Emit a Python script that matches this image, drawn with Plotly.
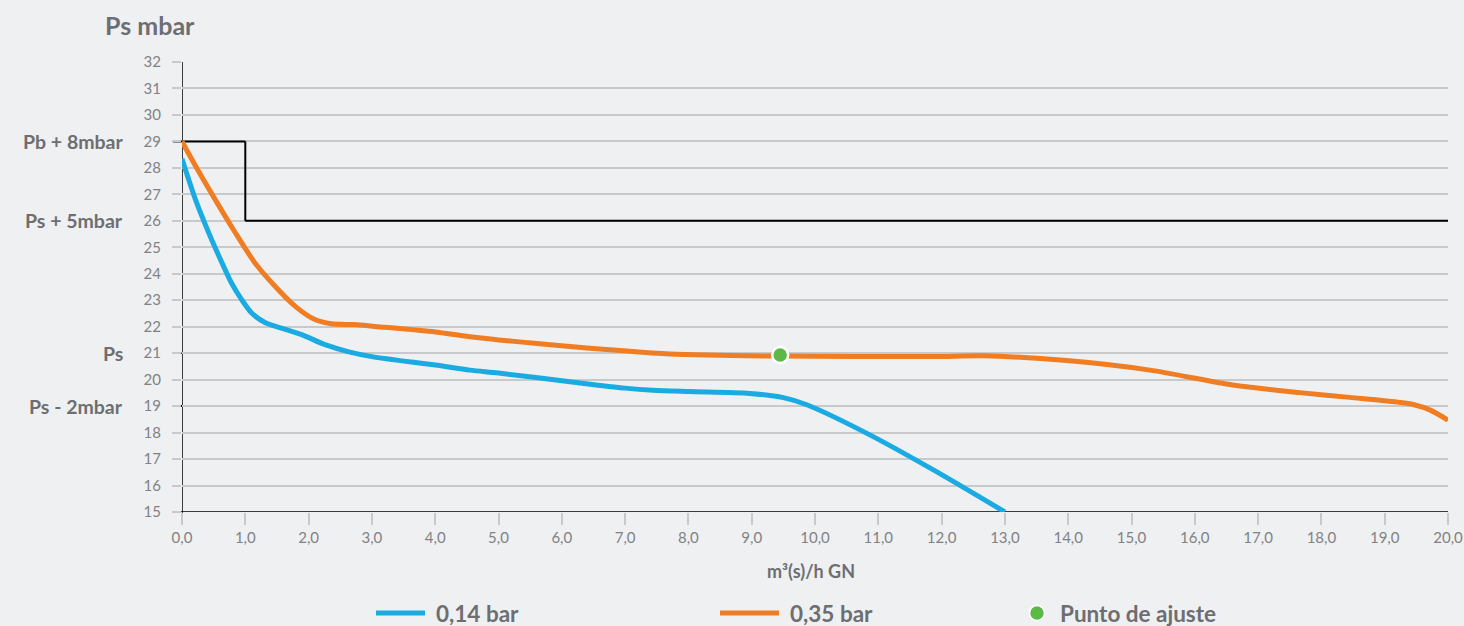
import plotly.graph_objects as go

# ---- data ----
x_014 = [0.0, 0.21, 0.42, 0.63, 0.78, 0.94, 1.10, 1.31, 1.57, 1.89, 2.26, 2.62, 3.0, 4.0, 4.55, 5.0, 6.13, 7.0, 7.44, 8.0, 8.97, 9.5, 9.87, 10.82, 11.87, 13.0]
y_014 = [28.34, 26.82, 25.56, 24.42, 23.66, 23.03, 22.52, 22.16, 21.95, 21.70, 21.32, 21.06, 20.87, 20.55, 20.36, 20.25, 19.92, 19.68, 19.6, 19.55, 19.48, 19.32, 19.05, 17.97, 16.59, 15.0]

x_035 = [0.0, 0.21, 0.52, 0.84, 1.15, 1.47, 1.79, 2.10, 2.36, 2.73, 3.05, 4.0, 4.55, 6.13, 7.71, 9.45, 11.87, 12.66, 13.98, 15.29, 16.6, 17.66, 18.45, 19.24, 19.45, 19.72, 20.0]
y_035 = [29.0, 28.09, 26.82, 25.56, 24.42, 23.53, 22.77, 22.27, 22.11, 22.08, 22.01, 21.8, 21.62, 21.25, 20.97, 20.89, 20.87, 20.9, 20.72, 20.36, 19.8, 19.51, 19.33, 19.14, 19.06, 18.85, 18.47]

set_point_x = [9.45]
set_point_y = [20.93]

limit_step_x = [0.0, 1.0, 1.0, 20.0]
limit_step_y = [29, 29, 26, 26]
ps_value = 21
ps_min = 19

x_ticks = [i for i in range(0, 21)]
x_tick_labels = [f"{i},0" for i in x_ticks]
y_ticks = list(range(15, 33))

ref_labels = [("Pb + 8mbar", 29), ("Ps + 5mbar", 26), ("Ps", 21), ("Ps - 2mbar", 19)]
series_names = ["0,14 bar", "0,35 bar", "Punto de ajuste"]

BLUE = "#1AABE2"
ORANGE = "#F07D22"
GREEN = "#5DB947"
TXT = "#6D6E71"
TICK = "#808285"
BG = "#EFF0F2"
FONT = "Lato"

fig = go.Figure()

fig.add_trace(go.Scatter(x=x_014, y=y_014, mode="lines", name=series_names[0],
                         line=dict(color=BLUE, width=5, shape="spline", smoothing=0.8),
                         cliponaxis=False))
fig.add_trace(go.Scatter(x=x_035, y=y_035, mode="lines", name=series_names[1],
                         line=dict(color=ORANGE, width=5, shape="spline", smoothing=0.8),
                         cliponaxis=False))
fig.add_trace(go.Scatter(x=set_point_x, y=set_point_y, mode="markers", name=series_names[2],
                         marker=dict(color=GREEN, size=16, line=dict(color="white", width=2.5)),
                         cliponaxis=False))

ext = -9 / 1266  # small extension to the left of the y axis (paper units)

shapes = []
shapes.append(dict(type="line", xref="paper", yref="y", x0=ext, x1=0, y0=29, y1=29,
                   line=dict(color="black", width=2), layer="between"))
for i in range(len(limit_step_x) - 1):
    shapes.append(dict(type="line", xref="x", yref="y",
                       x0=limit_step_x[i], x1=limit_step_x[i + 1],
                       y0=limit_step_y[i], y1=limit_step_y[i + 1],
                       line=dict(color="black", width=2), layer="between"))
shapes.append(dict(type="line", xref="paper", yref="y", x0=ext, x1=1, y0=ps_value, y1=ps_value,
                   line=dict(color="#333333", width=1.6, dash="12px,9px"), layer="between"))
shapes.append(dict(type="line", xref="paper", yref="y", x0=ext, x1=1, y0=ps_min, y1=ps_min,
                   line=dict(color="black", width=2), layer="between"))
shapes.append(dict(type="line", xref="paper", yref="y", x0=ext, x1=1, y0=15, y1=15,
                   line=dict(color="black", width=1.5), layer="between"))
shapes.append(dict(type="line", xref="x", yref="paper", x0=0, x1=0, y0=-12 / 450, y1=1,
                   line=dict(color="black", width=1.5), layer="between"))

annotations = []
for txt, yv in ref_labels:
    annotations.append(dict(text=txt, xref="paper", yref="y", x=(125 - 182) / 1266, y=yv,
                            xanchor="right", yanchor="middle", showarrow=False,
                            font=dict(family=FONT, size=19.5, color=TXT, weight="bold")))
annotations.append(dict(text="Ps mbar", xref="paper", yref="paper", x=(103 - 182) / 1266,
                        y=1 + (62 - 25) / 450, xanchor="left", yanchor="middle", showarrow=False,
                        font=dict(family=FONT, size=25, color=TXT, weight="bold")))
annotations.append(dict(text="m³(s)/h GN", xref="paper", yref="paper", x=(811 - 182) / 1266,
                        y=-(571 - 512) / 450, xanchor="center", yanchor="middle", showarrow=False,
                        font=dict(family=FONT, size=18, color=TXT, weight="bold")))

# custom legend
leg_y = -(613 - 512) / 450
leg_items = [(376, 425, 434, BLUE, "line", series_names[0]),
             (720, 779, 788, ORANGE, "line", series_names[1]),
             (1037, 1037, 1058, GREEN, "dot", series_names[2])]
for xs, xe, xt, col, kind, name in leg_items:
    if kind == "line":
        shapes.append(dict(type="line", xref="paper", yref="paper",
                           x0=(xs - 182) / 1266, x1=(xe - 182) / 1266, y0=leg_y, y1=leg_y,
                           line=dict(color=col, width=5)))
    else:
        r = 7.5
        shapes.append(dict(type="circle", xref="paper", yref="paper",
                           x0=(xs - r - 182) / 1266, x1=(xs + r - 182) / 1266,
                           y0=leg_y - r / 450, y1=leg_y + r / 450,
                           fillcolor=col, line=dict(color="white", width=1.5)))
    annotations.append(dict(text=name, xref="paper", yref="paper", x=(xt - 182) / 1266, y=leg_y,
                            xanchor="left", yanchor="middle", showarrow=False,
                            font=dict(family=FONT, size=22.5, color=TXT, weight="bold")))

fig.update_layout(
    width=1464, height=626,
    paper_bgcolor=BG, plot_bgcolor=BG,
    margin=dict(l=182, r=16, t=62, b=114, autoexpand=False),
    showlegend=False,
    shapes=shapes, annotations=annotations,
    font=dict(family=FONT, color=TICK),
    xaxis=dict(range=[0, 20], tickvals=x_ticks, ticktext=x_tick_labels,
               showgrid=False, zeroline=False, showline=False, automargin=False,
               ticks="outside", ticklen=12, tickcolor="#C8C9CB", tickwidth=1.5,
               tickfont=dict(size=15, color=TICK, family=FONT)),
    yaxis=dict(range=[15, 32], tickvals=y_ticks, automargin=False,
               showgrid=True, gridcolor="#C8C9CB", gridwidth=1.5,
               zeroline=False, showline=False,
               ticks="outside", ticklen=9, tickcolor="#C8C9CB", tickwidth=1.5,
               ticklabelstandoff=8,
               tickfont=dict(size=15, color=TICK, family=FONT)),
)

fig.write_html("out.html", config={"displayModeBar": False},
               post_script="document.body.style.margin='0';document.body.style.overflow='hidden';"
                           "document.body.style.background='" + BG + "';")
